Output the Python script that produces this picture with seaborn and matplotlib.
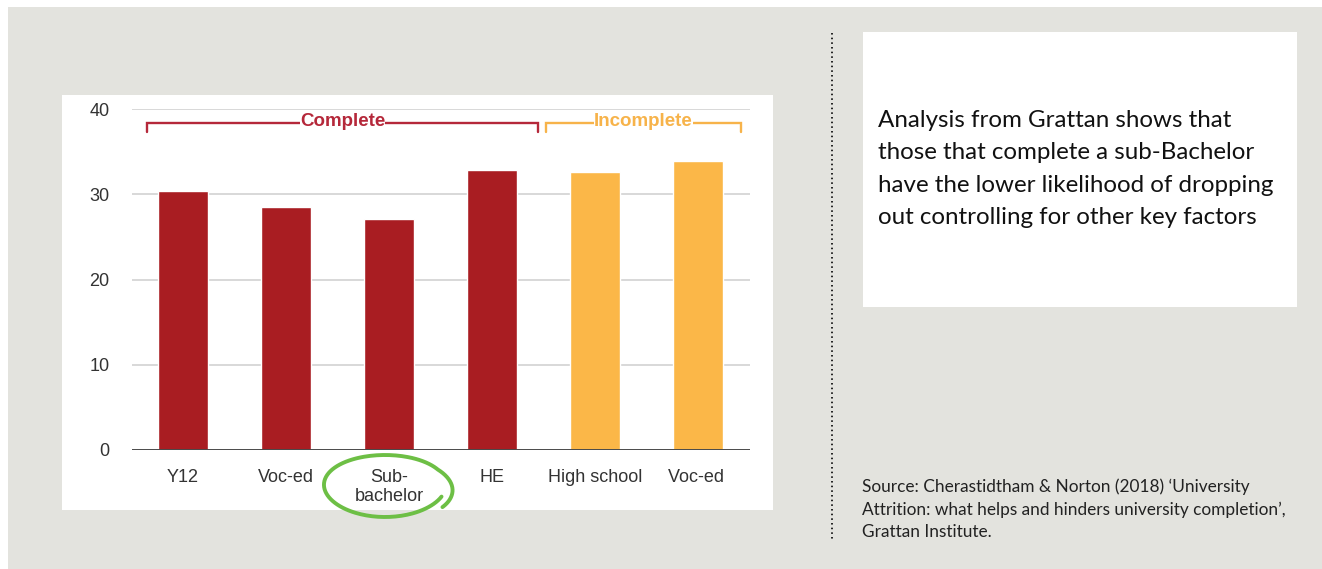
import numpy as np
import pandas as pd
import matplotlib
matplotlib.use("Agg")
import matplotlib.pyplot as plt
import matplotlib.patches as mpatches
import seaborn as sns

# Dropout likelihood (%) by prior education, split by completion status
categories = ["Y12", "Voc-ed", "Sub-\nbachelor", "HE", "High school", "Voc-ed "]
status = ["Complete", "Complete", "Complete", "Complete", "Incomplete", "Incomplete"]
values = [30.4, 28.5, 27.1, 32.9, 32.6, 33.9]
y_ticks = [0, 10, 20, 30, 40]

COL_COMPLETE = "#a91d22"
COL_INCOMPLETE = "#fbb748"
BG = "#e3e3de"

df = pd.DataFrame({"category": categories, "value": values, "status": status})

sns.set_theme(style="white")
plt.rcParams["font.family"] = ["Liberation Sans", "DejaVu Sans"]

W, H = 1322, 569
fig = plt.figure(figsize=(W / 100, H / 100), dpi=100)
fig.patch.set_facecolor("white")


def fx(px):
    return px / W


def fy(py):
    return 1 - py / H


# page background, white chart panel and white text box
fig.patches.append(mpatches.Rectangle((fx(8), 0), 1 - fx(8), fy(7), transform=fig.transFigure,
                                      facecolor=BG, edgecolor="none", zorder=-3))
fig.patches.append(mpatches.Rectangle((fx(62), fy(510)), fx(773 - 62), (510 - 95) / H,
                                      transform=fig.transFigure, facecolor="white",
                                      edgecolor="none", zorder=-2))
fig.patches.append(mpatches.Rectangle((fx(863), fy(307)), fx(1297 - 863), (307 - 32) / H,
                                      transform=fig.transFigure, facecolor="white",
                                      edgecolor="none", zorder=-2))

ax = fig.add_axes([fx(131.5), fy(450), fx(618), 341 / H])
ax.set_facecolor("none")

sns.barplot(data=df, x="category", y="value", hue="status",
            palette={"Complete": COL_COMPLETE, "Incomplete": COL_INCOMPLETE},
            width=0.49, dodge=False, legend=False, ax=ax, saturation=1, zorder=3)

ax.set_xlim(-0.5, len(categories) - 0.5)
ax.set_ylim(0, 40)
ax.set_yticks(y_ticks)
ax.set_xlabel("")
ax.set_ylabel("")
for s in ax.spines.values():
    s.set_visible(False)
for t in y_ticks[1:]:
    ax.axhline(t, color="#d2d2d2", lw=1.2, zorder=1)
ax.axhline(0, color="#4a4a4a", lw=1.4, zorder=4)
ax.tick_params(axis="y", length=0, pad=16, labelsize=13, labelcolor="#333333")
ax.tick_params(axis="x", length=0, pad=14, labelsize=13, labelcolor="#333333")
for lab in ax.get_yticklabels():
    lab.set_horizontalalignment("right")
for lab in ax.get_xticklabels():
    lab.set_linespacing(1.1)


# group brackets above the bars
def bracket(x0, x1, label, color):
    y, drop = 38.3, 1.0
    ax.plot([x0, x0, x1, x1], [y - drop, y, y, y - drop], color=color, lw=1.7,
            zorder=2, clip_on=False, solid_joinstyle="miter")
    ax.text((x0 + x1) / 2, y + 0.2, label, ha="center", va="center", color=color,
            fontsize=13.5, fontweight="bold", zorder=3,
            bbox=dict(facecolor="white", edgecolor="none", pad=0.2))


bracket(-0.35, 3.45, "Complete", "#b5283a")
bracket(3.52, 5.42, "Incomplete", "#f7b34a")

# hand-drawn green loop around the Sub-bachelor label
t = np.linspace(np.deg2rad(-20), np.deg2rad(-20) - 2 * np.pi - 0.4, 200)
cx, cy, rx, ry = 385, 486, 61, 31
loop_x = cx + rx * np.cos(t) * (1 + 0.04 * np.sin(t))
loop_y = cy - ry * np.sin(t)
loop_x[-40:] += np.linspace(0, 14, 40)
fig.add_artist(plt.Line2D(fx(loop_x), fy(loop_y), transform=fig.transFigure,
                          color="#6dbf45", lw=2.8, solid_capstyle="round", zorder=5))

# dotted divider
fig.add_artist(plt.Line2D([fx(832), fx(832)], [fy(33), fy(540)], transform=fig.transFigure,
                          color="#222222", lw=1.4, linestyle=(0, (0.8, 1.6)), zorder=2))

body = ("Analysis from Grattan shows that\n"
        "those that complete a sub-Bachelor\n"
        "have the lower likelihood of dropping\n"
        "out controlling for other key factors")
fig.text(fx(878), fy(169), body, ha="left", va="center", fontsize=17.4,
         family=["Lato", "DejaVu Sans"], color="#111111", linespacing=1.66,
         transform=fig.transFigure)

source = ("Source: Cherastidtham & Norton (2018) \u2018University\n"
          "Attrition: what helps and hinders university completion\u2019,\n"
          "Grattan Institute.")
fig.text(fx(862), fy(509), source, ha="left", va="center", fontsize=12.4,
         family=["Lato", "DejaVu Sans"], color="#222222", linespacing=1.48,
         transform=fig.transFigure)

fig.savefig("out.png", dpi=100, facecolor=fig.get_facecolor())
